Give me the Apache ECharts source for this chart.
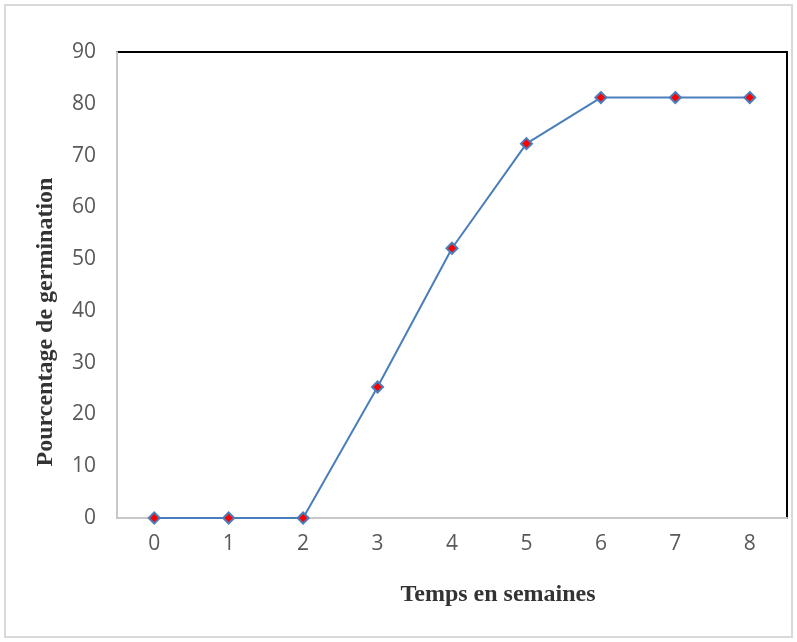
<!DOCTYPE html>
<html><head><meta charset="utf-8">
<script src="https://cdn.jsdelivr.net/npm/echarts@6/dist/echarts.min.js"></script>
<style>html,body{margin:0;padding:0;background:#fff}#c{width:797px;height:642px}</style>
</head><body><div id="c"></div>
<script>
const categories = ['0','1','2','3','4','5','6','7','8'];
const germination = [0, 0, 0, 25.3, 52.1, 72.3, 81.2, 81.2, 81.2];
const yTicks = [0, 10, 20, 30, 40, 50, 60, 70, 80, 90];
const xTitle = 'Temps en semaines';
const yTitle = 'Pourcentage de germination';

const titleFont = {fontFamily: 'Liberation Serif', fontWeight: 'bold', fontSize: 24, fill: '#333'};

const chart = echarts.init(document.getElementById('c'));
chart.setOption({
  animation: false,
  backgroundColor: '#fff',
  graphic: [
    {type: 'rect', shape: {x: 5, y: 5, width: 787, height: 632},
     style: {fill: 'none', stroke: '#d9d9d9', lineWidth: 2}, z: -1},
    {type: 'text', x: 498, y: 595,
     style: Object.assign({text: xTitle, align: 'center', verticalAlign: 'middle'}, titleFont)},
    {type: 'text', x: 46, y: 322, rotation: Math.PI / 2,
     style: Object.assign({text: yTitle, align: 'center', verticalAlign: 'middle'}, titleFont)}
  ],
  grid: {left: 117, right: 10, top: 52, bottom: 124, show: true, borderColor: '#000', borderWidth: 2, backgroundColor: 'transparent'},
  xAxis: {
    type: 'category', data: categories, boundaryGap: true,
    axisLine: {show: true, lineStyle: {color: '#c8c8c8', width: 2}},
    axisTick: {show: false},
    axisLabel: {fontFamily: 'Open Sans', fontSize: 21, color: '#595959', margin: 16},
    splitLine: {show: false}
  },
  yAxis: {
    type: 'value', min: yTicks[0], max: yTicks[yTicks.length-1], interval: 10,
    axisLine: {show: true, lineStyle: {color: '#c8c8c8', width: 2}},
    axisTick: {show: false},
    axisLabel: {fontFamily: 'Open Sans', fontSize: 21, color: '#595959', margin: 21},
    splitLine: {show: false}
  },
  series: [{
    type: 'line', data: germination,
    symbol: 'diamond', symbolSize: 11,
    lineStyle: {color: '#4a7ebb', width: 2},
    itemStyle: {color: '#ff0000', borderColor: '#4a7ebb', borderWidth: 2},
    z: 5
  }]
});
</script></body></html>
